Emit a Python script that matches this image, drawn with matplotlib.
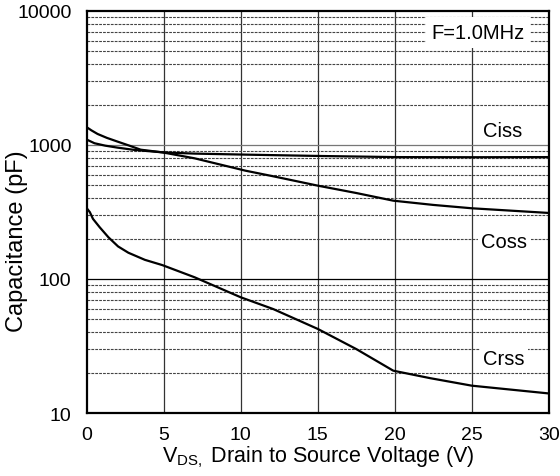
import numpy as np
import matplotlib.pyplot as plt

plt.rcParams['font.family'] = ['Liberation Sans', 'DejaVu Sans']

# capacitance vs. drain-source voltage, f = 1.0 MHz
vds_ciss = [0, 0.5, 1.2, 2, 3.1, 4.9, 7, 10.3, 15, 20, 25, 30]
ciss = [1096, 1030, 988, 955, 918, 881, 862, 847, 828, 812, 810, 812]

vds_coss = [0, 0.3, 0.7, 1.3, 2.0, 2.8, 3.5, 4.9, 7.0, 10.3, 12.1, 15, 17.5, 19.9, 22.5, 25, 30]
coss = [1355, 1285, 1208, 1130, 1059, 985, 922, 881, 795, 643, 584, 497, 438, 384, 357, 337, 311]

vds_crss = [0, 0.2, 0.4, 0.84, 1.4, 2.03, 2.7, 3.77, 4.9, 7.0, 10.0, 12.1, 15, 17.5, 19.9, 22.3, 25, 30]
crss = [337, 315, 281, 243, 205, 175, 157, 139, 127, 103, 73, 59.7, 42.4, 30, 20.7, 18.2, 16, 14.0]

fig = plt.figure(figsize=(5.6, 4.77), dpi=100)
ax = fig.add_axes([0.155, 0.132, 0.825, 0.843])

ax.set_yscale('log')
ax.set_xlim(0, 30)
ax.set_ylim(10, 10000)

# grid: solid decades / 5 V steps, dashed minor decades
for v in [5, 10, 15, 20, 25]:
    ax.axvline(v, color='#333333', lw=0.9, zorder=1)
for dec in [10, 100, 1000]:
    for m in range(2, 10):
        ax.axhline(dec * m, color='#444444', lw=0.8, ls=(0, (2.5, 1)), zorder=1)
ax.axhline(100, color='black', lw=0.9, zorder=1)
ax.axhline(1000, color='#777777', lw=0.9, zorder=1)

for x, y in [(vds_ciss, ciss), (vds_coss, coss), (vds_crss, crss)]:
    ax.plot(x, y, color='black', lw=1.6, zorder=3, solid_joinstyle='round')

box = dict(facecolor='white', edgecolor='none', pad=2.5)
ax.text(27.0, 1280, 'Ciss', fontsize=14.5, ha='center', va='center', bbox=box, zorder=4)
ax.text(27.1, 189, 'Coss', fontsize=14.5, ha='center', va='center', bbox=box, zorder=4)
ax.text(27.1, 25.7, 'Crss', fontsize=14.5, ha='center', va='center', bbox=box, zorder=4)
ax.text(25.4, 6900, 'F=1.0MHz', fontsize=14.5, ha='center', va='center',
        bbox=dict(facecolor='white', edgecolor='none', pad=4), zorder=4)

ax.set_xticks([0, 5, 10, 15, 20, 25, 30])
ax.set_yticks([10, 100, 1000, 10000])
ax.set_yticklabels(['10', '100', '1000', '10000'])
ax.minorticks_off()
ax.tick_params(length=0, labelsize=14)
ax.tick_params(axis='x', pad=9)
ax.tick_params(axis='y', pad=11)

for s in ax.spines.values():
    s.set_linewidth(1.6)
    s.set_zorder(5)

ax.set_xlabel('V$_{\\mathregular{DS ,}}\\;$Drain to Source Voltage (V)', fontsize=15.5, labelpad=1)
ax.set_ylabel('Capacitance (pF)', fontsize=17)
ax.yaxis.set_label_coords(-0.128, 0.43)

fig.savefig('out.png', dpi=100)
